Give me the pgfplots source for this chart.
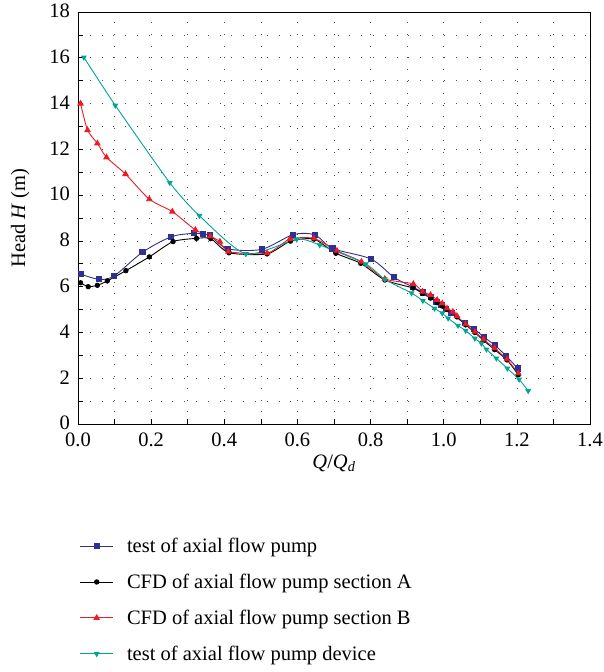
\documentclass[border=0pt]{standalone}
\usepackage{pgfplots}
\pgfplotsset{compat=1.18}
\usepackage{fontspec}
\setmainfont{Liberation Serif}
\definecolor{cblue}{RGB}{46,49,146}
\definecolor{cred}{RGB}{237,28,36}
\definecolor{cgreen}{RGB}{0,166,147}
\begin{document}
\begin{tikzpicture}[font=\fontsize{20.5}{23}\selectfont]
\begin{axis}[
  name=ax,
  scale only axis,
  width=512pt, height=412pt,
  xmin=0, xmax=1.4, ymin=0, ymax=18,
  xtick={0,0.2,...,1.4}, ytick={0,2,...,18},
  minor x tick num=1, minor y tick num=1,
  xtick pos=bottom, ytick pos=left,
  tick align=inside,
  major tick length=5pt, minor tick length=5pt,
  grid=both,
  major grid style={black!70, line width=0.6pt, dash pattern=on 0.8pt off 11pt},
  minor grid style={black!70, line width=0.6pt, dash pattern=on 0.8pt off 11pt},
  axis line style={line width=0.8pt},
  every tick/.style={black, line width=0.6pt},
  /pgf/number format/assume math mode=true,
  x tick label style={inner sep=0pt, yshift=-9pt, /pgf/number format/.cd, fixed, fixed zerofill, precision=1},
  y tick label style={inner sep=0pt, xshift=-8pt, yshift=1pt, /pgf/number format/.cd, fixed, precision=0},
  xlabel={\textit{Q}/\textit{Q}\textsubscript{\textit{d}}},
  ylabel={Head \textit{H} (m)},
  xlabel style={at={(axis description cs:0.5,-0.095)}, anchor=center},
  ylabel style={at={(axis description cs:-0.113,0.5)}, anchor=center},
  legend style={draw=none, fill=none, at={(axis description cs:0.004,-0.272)}, anchor=north west, row sep=16pt, font=\fontsize{20.5}{23}\selectfont, inner sep=0pt, outer sep=0pt},
  legend cell align=left,
  legend image code/.code={\draw[mark repeat=2,mark phase=2] plot coordinates {(0cm,0cm)(0.57cm,0cm)(1.14cm,0cm)}; \path (1.55cm,0cm);},
  every axis plot/.append style={line width=0.9pt},
]
\addplot[cblue, smooth, tension=0.5, mark=square*, mark size=2.6pt, mark options={solid}] coordinates {
(0.007,6.55)(0.058,6.32)(0.099,6.47)(0.176,7.50)(0.255,8.18)(0.317,8.33)(0.341,8.29)(0.361,8.24)
(0.409,7.66)(0.502,7.63)(0.588,8.27)(0.648,8.26)(0.696,7.67)(0.801,7.21)(0.864,6.41)(0.916,5.98)
(0.943,5.75)(0.964,5.56)(0.980,5.34)(0.994,5.20)(1.007,5.01)(1.021,4.84)(1.057,4.40)(1.083,4.16)
(1.109,3.81)(1.139,3.45)(1.171,2.97)(1.202,2.43)};
\addlegendentry{test of axial flow pump}
\addplot[black, smooth, tension=0.4, mark=*, mark size=2.2pt] coordinates {
(0.007,6.17)(0.028,6.00)(0.053,6.06)(0.080,6.25)(0.131,6.70)(0.195,7.30)(0.260,7.97)(0.324,8.11)
(0.363,8.10)(0.413,7.48)(0.517,7.43)(0.581,7.99)(0.645,8.08)(0.705,7.46)(0.773,7.02)(0.839,6.29)
(0.916,5.94)(0.942,5.70)(0.964,5.50)(0.982,5.30)(0.996,5.15)(1.009,5.00)(1.036,4.68)(1.060,4.33)
(1.085,4.00)(1.109,3.65)(1.139,3.25)(1.173,2.80)(1.204,2.15)};
\addlegendentry{CFD of axial flow pump section A}
\addplot[cred, smooth, tension=0.4, mark=triangle*, mark size=3pt] coordinates {
(0.007,14.0)(0.026,12.84)(0.053,12.26)(0.078,11.65)(0.130,10.92)(0.195,9.82)(0.258,9.28)(0.321,8.48)
(0.362,8.20)(0.388,7.97)(0.411,7.53)(0.517,7.46)(0.579,8.08)(0.645,8.11)(0.708,7.57)(0.775,7.09)
(0.839,6.34)(0.917,6.12)(0.942,5.78)(0.964,5.64)(0.982,5.42)(0.996,5.27)(1.009,5.05)(1.025,4.91)
(1.036,4.72)(1.060,4.36)(1.085,4.03)(1.109,3.70)(1.139,3.31)(1.173,2.83)(1.204,2.21)};
\addlegendentry{CFD of axial flow pump section B}
\addplot[cgreen, smooth, tension=0.4, mark=triangle*, mark size=2.6pt, mark options={rotate=180}] coordinates {
(0.016,16.02)(0.102,13.92)(0.251,10.54)(0.332,9.10)(0.459,7.43)(0.598,8.07)(0.661,7.82)(0.787,6.99)
(0.839,6.32)(0.912,5.72)(0.943,5.39)(0.975,5.05)(0.996,4.84)(1.012,4.62)(1.039,4.30)(1.060,4.08)
(1.085,3.74)(1.103,3.52)(1.117,3.26)(1.144,2.87)(1.174,2.43)(1.206,1.95)(1.231,1.45)};
\addlegendentry{test of axial flow pump device}
\end{axis}
\pgfresetboundingbox
\path (ax.south west) ++(-78pt,-248pt) rectangle ++(604pt,672pt);
\end{tikzpicture}
\end{document}
